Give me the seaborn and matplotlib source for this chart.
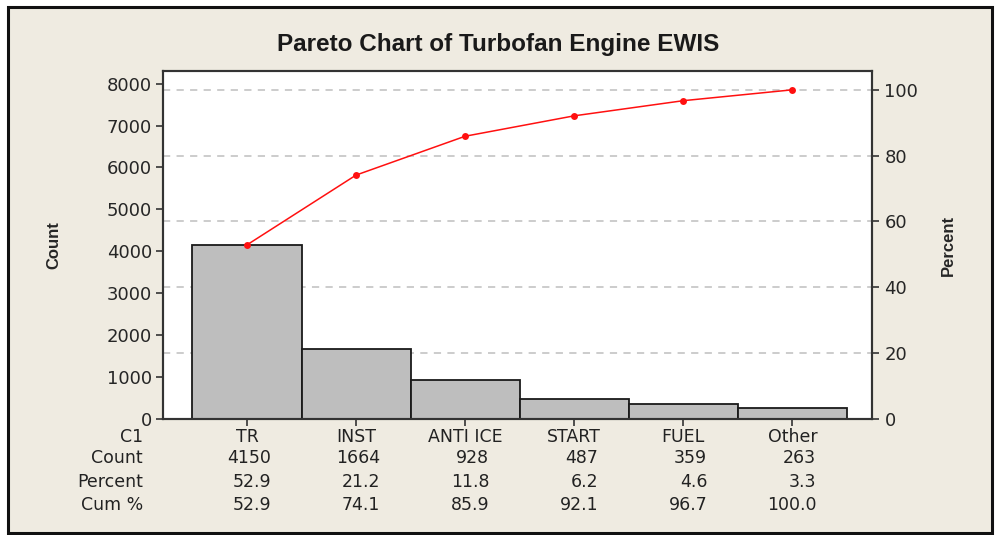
import matplotlib
matplotlib.use("Agg")
import matplotlib.pyplot as plt
from matplotlib.patches import Rectangle
import seaborn as sns
import numpy as np
import pandas as pd

categories = ["TR", "INST", "ANTI ICE", "START", "FUEL", "Other"]
counts = [4150, 1664, 928, 487, 359, 263]
percent = [52.9, 21.2, 11.8, 6.2, 4.6, 3.3]
cum_pct = [52.9, 74.1, 85.9, 92.1, 96.7, 100.0]
count_ticks = [0, 1000, 2000, 3000, 4000, 5000, 6000, 7000, 8000]
pct_ticks = [0, 20, 40, 60, 80, 100]

df = pd.DataFrame({"C1": categories, "Count": counts})
total = sum(counts)

sns.set_style("white")
plt.rcParams["font.family"] = ["DejaVu Sans"]

fig = plt.figure(figsize=(9.97, 5.35), dpi=100)
fig.patch.set_facecolor("white")
fig.patches.append(Rectangle((0.008, 0.004), 0.987, 0.983, transform=fig.transFigure,
                             facecolor="#EFEBE1", edgecolor="#111111", lw=2.2, zorder=-5))

ax = fig.add_axes([0.1635, 0.2168, 0.7111, 0.6505])
ax.set_facecolor("white")
ax2 = ax.twinx()

ytop = 8300
ax.set_ylim(0, ytop)
ax2.set_ylim(0, ytop / total * 100)

# dashed grid at the percent ticks, behind the bars
for p in pct_ticks[1:]:
    ax.axhline(p / 100 * total, color="#C8C8C8", lw=1.3, ls=(0, (4, 3.5)), zorder=0)

sns.barplot(data=df, x="C1", y="Count", order=categories, ax=ax, color="#BEBEBE",
            saturation=1, width=1.0, edgecolor="#1a1a1a", linewidth=1.3, zorder=2)
ax.set_xlim(-0.77, 5.73)

sns.lineplot(x=np.arange(len(categories)), y=cum_pct, ax=ax2, color="#FF1010", lw=1.1,
             marker="o", markersize=5, markeredgewidth=0)

ax.set_yticks(count_ticks)
ax2.set_yticks(pct_ticks)
ax.set_xlabel("")
ax.set_ylabel("")
ax2.set_ylabel("")
ax.tick_params(axis="x", labelbottom=False, length=5, width=1.2, color="#333333", bottom=True)
ax.tick_params(axis="y", labelsize=13, length=5, width=1.2, color="#333333", pad=3, left=True)
ax2.tick_params(axis="y", labelsize=13, length=5, width=1.2, color="#333333", pad=4, right=True)
for a in (ax, ax2):
    for s in a.spines.values():
        s.set_color("#333333")
        s.set_linewidth(1.5)

# table below the axis
tr = ax.get_xaxis_transform()
rows = [("C1", categories), ("Count", [str(c) for c in counts]),
        ("Percent", [f"{p:.1f}" for p in percent]), ("Cum %", [f"{c:.1f}" for c in cum_pct])]
row_y = [-0.052, -0.112, -0.180, -0.247]
for (name, vals), yy in zip(rows, row_y):
    fig.text(0.1435, ax.get_position().y0 + yy * ax.get_position().height, name,
             ha="right", va="center", fontsize=12.5, color="#222222")
    for i, v in enumerate(vals):
        if name == "C1":
            ax.text(i, yy, v, transform=tr, ha="center", va="center", fontsize=12.5, color="#222222")
        else:
            ax.text(i + 0.22, yy, v, transform=tr, ha="right", va="center", fontsize=12.5, color="#222222")

fig.text(0.5, 0.916, "Pareto Chart of Turbofan Engine EWIS", ha="center", va="center",
         fontsize=17.5, fontweight="bold", family=["Liberation Sans", "DejaVu Sans"], color="#1a1a1a")
fig.text(0.054, 0.542, "Count", rotation=90, ha="center", va="center", fontsize=12,
         fontweight="bold", family=["Liberation Sans", "DejaVu Sans"])
fig.text(0.951, 0.542, "Percent", rotation=90, ha="center", va="center", fontsize=12,
         fontweight="bold", family=["Liberation Sans", "DejaVu Sans"])

fig.savefig("out.png", dpi=100)
